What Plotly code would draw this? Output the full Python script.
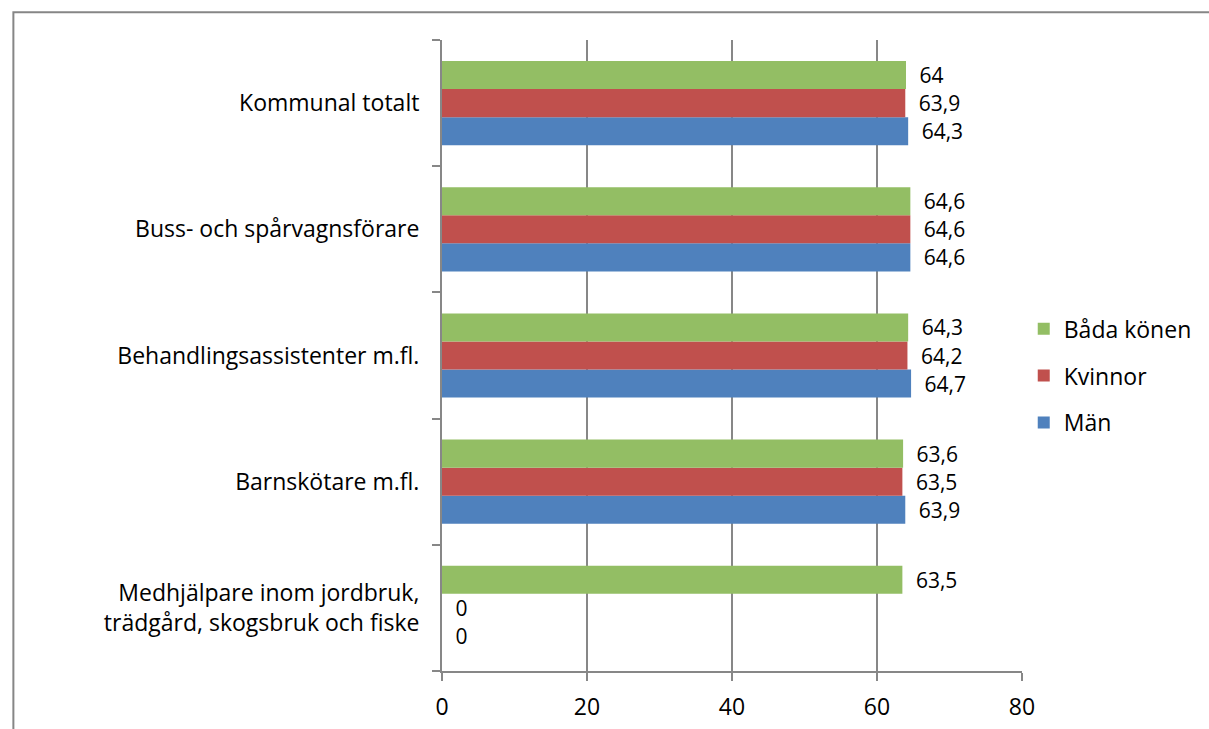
import plotly.graph_objects as go

categories = [
    "Medhjälpare inom jordbruk,<br>trädgård, skogsbruk och fiske",
    "Barnskötare m.fl.",
    "Behandlingsassistenter m.fl.",
    "Buss- och spårvagnsförare",
    "Kommunal totalt",
]
man = [0, 63.9, 64.7, 64.6, 64.3]
kvinnor = [0, 63.5, 64.2, 64.6, 63.9]
bada = [63.5, 63.6, 64.3, 64.6, 64.0]
x_ticks = [0, 20, 40, 60, 80]

_GRID = "#878787"
_FONT = "Open Sans, sans-serif"
_FS = 23
_LABEL_FS = 21


def _labels(values):
    return ["\u2002" + f"{v:g}".replace(".", ",") for v in values]


fig = go.Figure()
for rank, (name, values, color) in enumerate(
    [
        ("Män", man, "#4F81BD"),
        ("Kvinnor", kvinnor, "#C0504D"),
        ("Båda könen", bada, "#93BE64"),
    ]
):
    fig.add_trace(
        go.Bar(
            name=name,
            x=values,
            y=categories,
            orientation="h",
            marker_color=color,
            marker_line_width=0,
            text=_labels(values),
            textposition="outside",
            constraintext="none",
            textfont={"color": "black", "size": _LABEL_FS, "family": _FONT},
            cliponaxis=False,
            legendgroup=name,
            legendrank=3 - rank,
        )
    )

fig.add_shape(
    type="rect",
    xref="paper",
    yref="paper",
    x0=-0.739,
    x1=1.5,
    y0=-0.3,
    y1=1.044,
    line={"color": "#868686", "width": 2},
    fillcolor="rgba(0,0,0,0)",
    layer="below",
)

fig.update_layout(
    width=1209,
    height=729,
    barmode="group",
    bargap=0.333,
    bargroupgap=0,
    margin=dict(l=442, r=184, t=40, b=58),
    plot_bgcolor="white",
    paper_bgcolor="white",
    font={"family": _FONT, "size": _FS, "color": "black"},
    legend={
        "x": 1.003,
        "xanchor": "left",
        "y": 0.468,
        "yanchor": "middle",
        "traceorder": "grouped",
        "tracegroupgap": 14,
        "font": {"size": _FS, "family": _FONT},
        "itemwidth": 30,
    },
)
fig.update_xaxes(
    range=[0, 80],
    tickvals=x_ticks,
    showgrid=True,
    gridcolor=_GRID,
    gridwidth=2,
    showline=True,
    linecolor=_GRID,
    linewidth=2,
    ticks="outside",
    ticklen=8,
    tickcolor=_GRID,
    tickwidth=2,
    zeroline=False,
    ticklabelstandoff=6,
    automargin=False,
)
fig.update_yaxes(
    categoryorder="array",
    categoryarray=categories,
    showgrid=False,
    showline=True,
    linecolor=_GRID,
    linewidth=2,
    ticks="outside",
    tickson="boundaries",
    ticklen=8,
    tickcolor=_GRID,
    tickwidth=2,
    ticklabelstandoff=16,
    automargin=False,
)

fig.write_html(
    "out.html",
    config={"displayModeBar": False},
    post_script="document.body.style.margin='0';",
)
